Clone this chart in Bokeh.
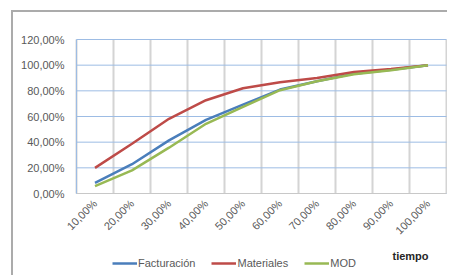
from bokeh.plotting import figure
from bokeh.models import FixedTicker, Legend, LegendItem, Label, Range1d
from bokeh.embed import file_html
from bokeh.resources import INLINE
import math

categories = ["10,00%", "20,00%", "30,00%", "40,00%", "50,00%", "60,00%", "70,00%", "80,00%", "90,00%", "100,00%"]
facturacion = [0.083, 0.228, 0.414, 0.574, 0.693, 0.81, 0.875, 0.934, 0.965, 1.0]
materiales = [0.20, 0.388, 0.582, 0.727, 0.82, 0.867, 0.90, 0.947, 0.97, 1.0]
mod = [0.057, 0.18, 0.357, 0.543, 0.675, 0.805, 0.875, 0.93, 0.96, 1.0]
y_ticks = [0.0, 0.2, 0.4, 0.6, 0.8, 1.0, 1.2]
y_labels = ["0,00%", "20,00%", "40,00%", "60,00%", "80,00%", "100,00%", "120,00%"]
x_title = "tiempo"

xs = list(range(1, len(categories) + 1))
bounds = [x - 0.5 for x in xs] + [xs[-1] + 0.5]
text_color = "#595959"
font = "Liberation Sans"

# layout (pixels); the frame covers the whole canvas, axes are drawn at fixed positions
W, H = 436, 265
plot_left = 63           # pixels left of the first category band (y labels)
plot_top = 27            # pixels above the top grid line
right = 2
plot_h_px = 154          # height of the 0..max band
below_px = 84            # space below the zero line (tick labels, legend)
px_per_y = plot_h_px / y_ticks[-1]
px_per_x = (W - plot_left - right - 1) / len(categories)

y_range = Range1d(-below_px / px_per_y, y_ticks[-1] + plot_top / px_per_y)
x_range = Range1d(bounds[0] - plot_left / px_per_x, bounds[-1] + 1 / px_per_x)

p = figure(width=W, height=H, output_backend="svg", toolbar_location=None,
           x_range=x_range, y_range=y_range,
           min_border_left=0, min_border_right=right, min_border_top=0, min_border_bottom=0)
p.styles = {"margin-left": "11px", "margin-top": "10px",
            "border-left": "2px solid #ABABAB", "border-top": "2px solid #ABABAB"}
p.outline_line_color = None
p.background_fill_color = "white"

# y axis drawn at the left edge of the first band
p.yaxis.fixed_location = bounds[0]
p.yaxis.ticker = FixedTicker(ticks=y_ticks)
p.yaxis.bounds = (y_ticks[0], y_ticks[-1])
p.yaxis.major_label_overrides = {t: l for t, l in zip(y_ticks, y_labels)}
p.yaxis.axis_line_color = "#9DBCE4"
p.yaxis.major_tick_line_color = None
p.yaxis.minor_tick_line_color = None
p.yaxis.major_tick_out = 0
p.yaxis.major_tick_in = 0
p.yaxis.major_label_standoff = 12
p.yaxis.major_label_text_font = font
p.yaxis.major_label_text_font_size = "11px"
p.yaxis.major_label_text_color = text_color

# x axis drawn at y = 0
p.xaxis.fixed_location = y_ticks[0]
p.xaxis.bounds = (bounds[0], bounds[-1])
p.xaxis.ticker = FixedTicker(ticks=xs)
p.xaxis.major_label_overrides = {x: c for x, c in zip(xs, categories)}
p.xaxis.major_label_orientation = math.pi / 4
p.xaxis.axis_line_color = "#C8C8C8"
p.xaxis.axis_line_width = 1
p.xaxis.major_tick_line_color = None
p.xaxis.minor_tick_line_color = None
p.xaxis.major_tick_out = 0
p.xaxis.major_tick_in = 0
p.xaxis.major_label_standoff = 8
p.xaxis.major_label_text_font = font
p.xaxis.major_label_text_font_size = "11px"
p.xaxis.major_label_text_color = text_color

# grid lines limited to the plot band
p.xgrid.visible = False
p.ygrid.visible = False
p.segment(x0=bounds, y0=[y_ticks[0]] * len(bounds), x1=bounds, y1=[y_ticks[-1]] * len(bounds),
          line_color="#D4D4D4", line_width=2, level="underlay")
p.segment(x0=[bounds[0]] * len(y_ticks), y0=y_ticks, x1=[bounds[-1]] * len(y_ticks), y1=y_ticks,
          line_color="#9DBCE4", line_width=1, level="underlay")

r1 = p.line(xs, facturacion, line_color="#4A7EBB", line_width=2.5)
r2 = p.line(xs, materiales, line_color="#BE4B48", line_width=2.5)
r3 = p.line(xs, mod, line_color="#98B954", line_width=2.5)

legend = Legend(items=[LegendItem(label="Facturación", renderers=[r1]),
                       LegendItem(label="Materiales", renderers=[r2]),
                       LegendItem(label="MOD", renderers=[r3])],
                orientation="horizontal", location=(plot_left + 36, 4),
                padding=0, margin=0, spacing=16, label_standoff=1,
                glyph_width=25, glyph_height=20, label_height=20,
                border_line_color=None, background_fill_alpha=0,
                label_text_font=font, label_text_font_size="11px",
                label_text_color=text_color)
p.add_layout(legend, "center")

lbl = Label(x=plot_left + 316, y=22, x_units="screen", y_units="screen", text=x_title,
            text_font=font, text_font_size="11px", text_font_style="bold",
            text_color="#262626", text_baseline="middle")
p.add_layout(lbl)

open("out.html", "w").write(file_html(p, INLINE))
